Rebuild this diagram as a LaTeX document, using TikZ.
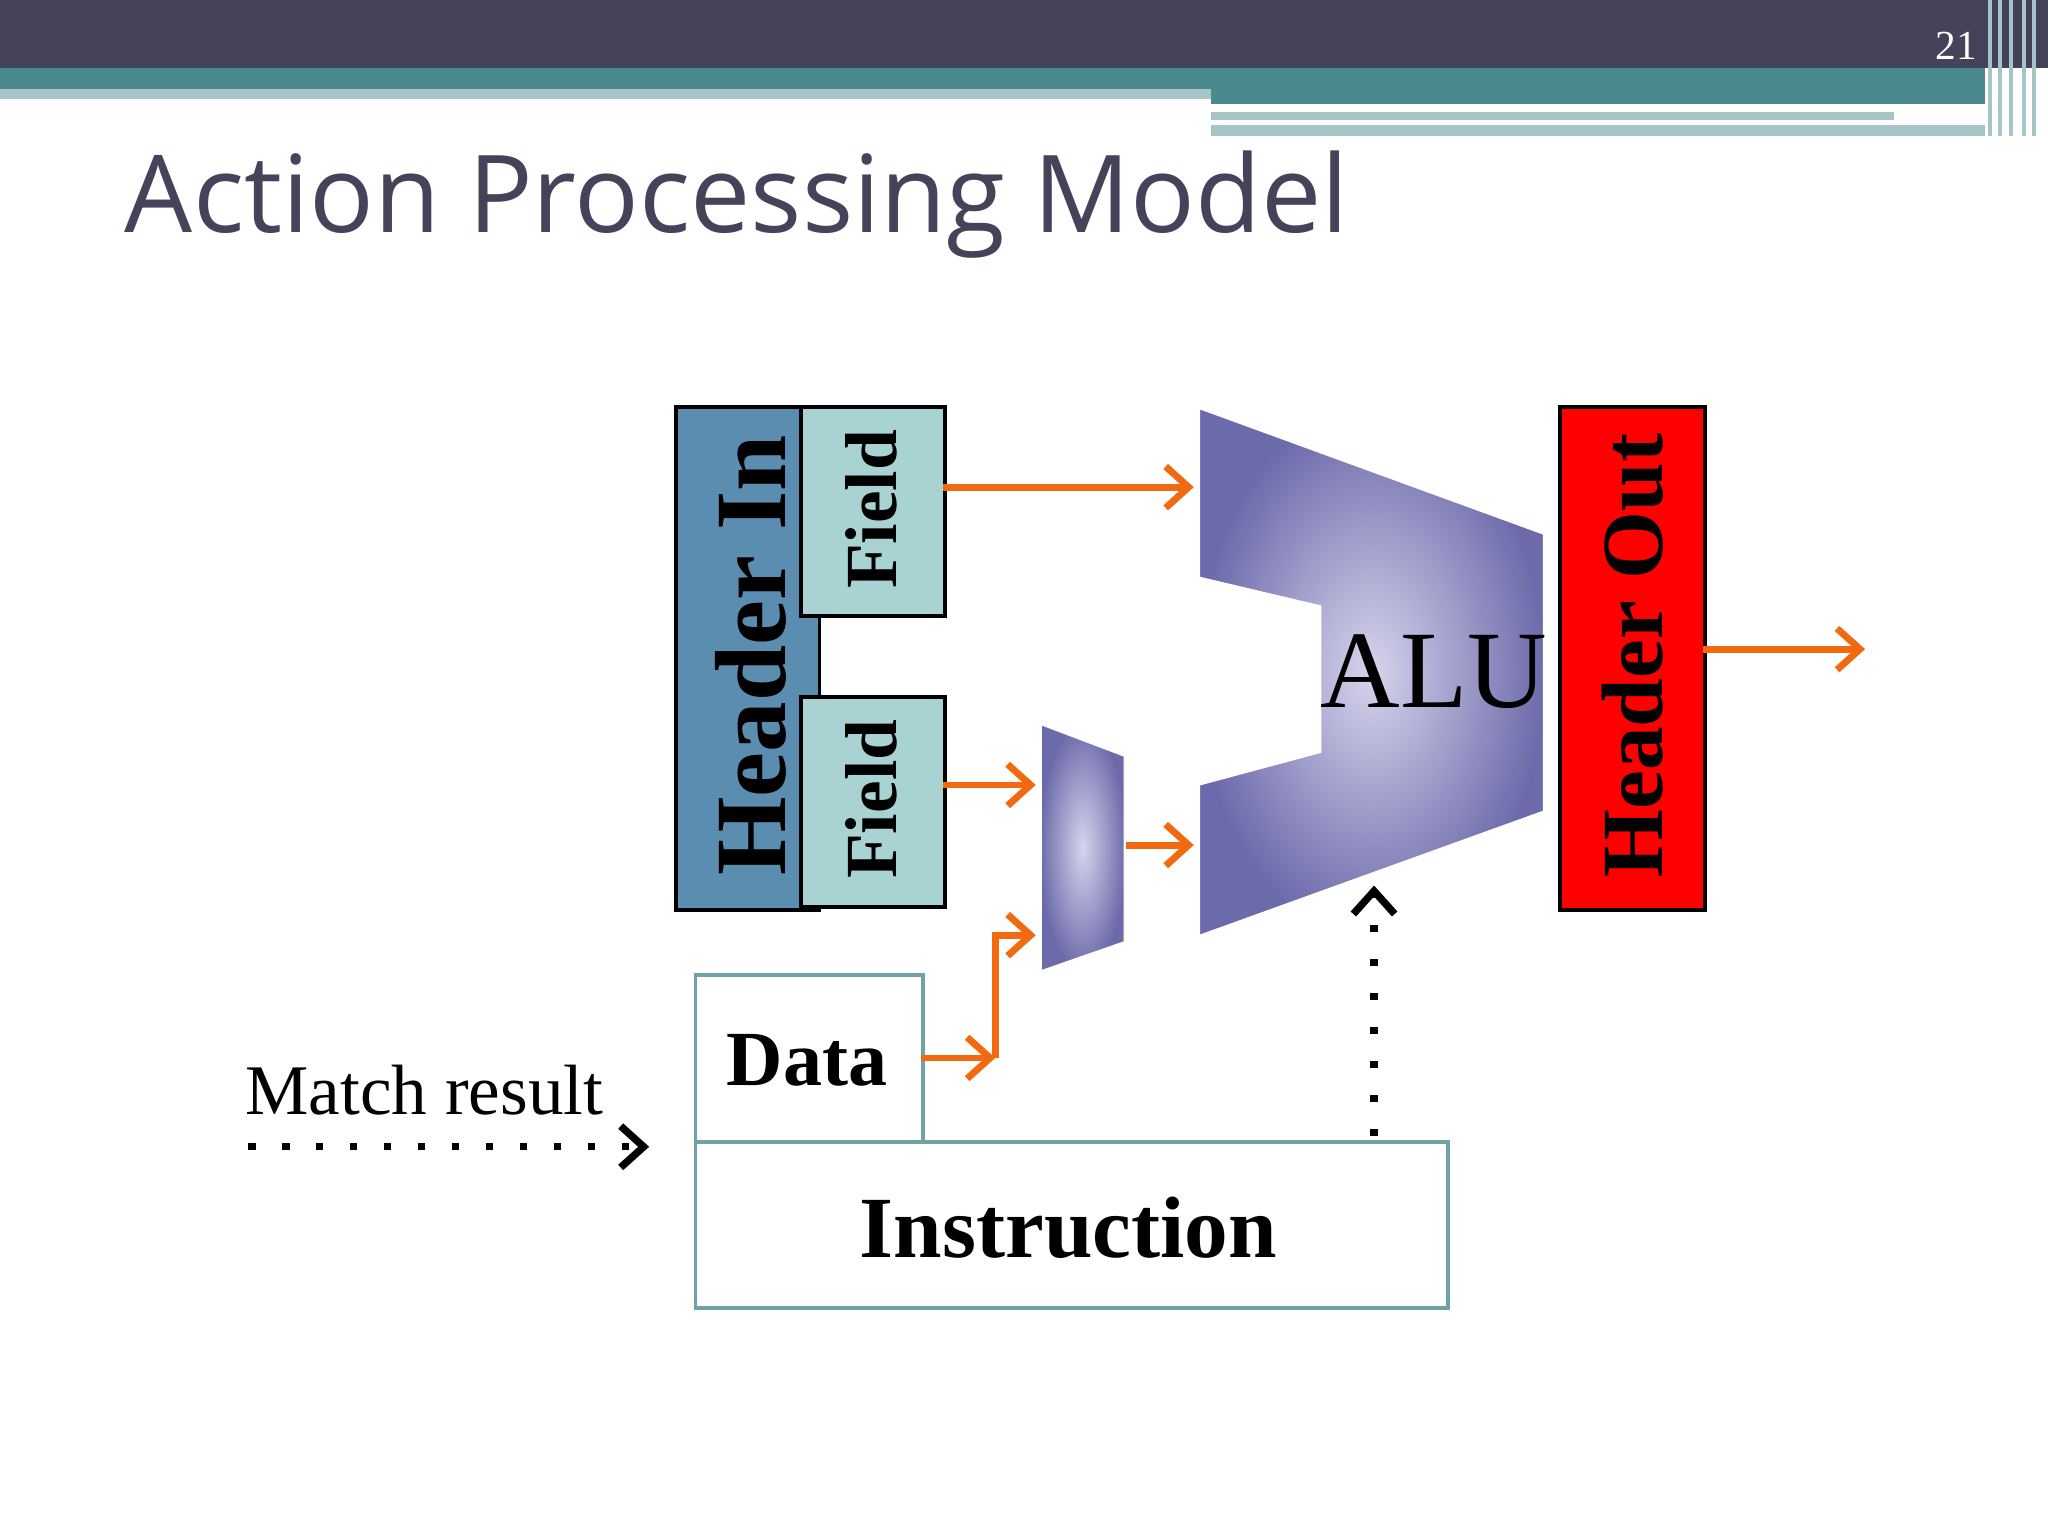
\documentclass[tikz,border=0pt]{standalone}
\usepackage{fontspec}
\setmainfont{Liberation Serif}
\newfontfamily\titlefont{Open Sans}
\usetikzlibrary{arrows.meta}
\definecolor{dark}{HTML}{45435A}
\definecolor{teal}{HTML}{4A8A8E}
\definecolor{lteal}{HTML}{A7C4C8}
\definecolor{hin}{HTML}{5B8DB0}
\definecolor{fld}{HTML}{A9D3D3}
\definecolor{alu}{HTML}{6C6AAA}
\definecolor{aluc}{HTML}{D6D4EC}
\definecolor{org}{HTML}{F26A10}
\definecolor{bord}{HTML}{6FA3A8}
\newcommand{\fs}[1]{\fontsize{#1}{#1}\selectfont}
\begin{document}
\begin{tikzpicture}[x=0.01cm,y=-0.01cm,
  oarr/.style={org,line width=1.5pt,-{Straight Barb[length=5pt,width=9pt]}},
  darr/.style={black,line width=1.6pt,dash pattern=on 1.6pt off 5.8pt,-{Straight Barb[length=5pt,width=9pt]}},
  box/.style={draw=black,line width=0.8pt,anchor=north west,inner sep=0pt},
  wbox/.style={draw=bord,line width=0.8pt,fill=white,anchor=north west,inner sep=0pt},
  shade/.style={inner color=aluc,outer color=alu,draw=white,line width=1pt}]
\useasboundingbox (0,0) rectangle (1568,1176);
% header decoration
\fill[dark] (0,0) rectangle (1568,52);
\fill[teal] (0,52) rectangle (1520,68);
\fill[lteal] (0,68) rectangle (927,76);
\fill[teal] (927,68) rectangle (1520,80);
\fill[lteal] (927,86) rectangle (1450,92);
\fill[lteal] (927,96) rectangle (1520,104);
\foreach \x in {1522,1530,1538,1548,1556}{\fill[lteal] (\x,0) rectangle (\x+3,104);}
\node[text=white] (num) at (1498,35) {\fs{9pt}21};
\node[anchor=base west,text=dark,inner sep=0pt] (title) at (95,178) {\titlefont\fs{23.4pt}Action Processing Model};
% Header in
\node[box,fill=hin,minimum width=1.1cm,minimum height=3.85cm] (hin) at (516,310) {};
\node[rotate=90,font=\bfseries\fs{22pt}] (hint) at (575,502) {Header In};
\node[box,fill=fld,minimum width=1.1cm,minimum height=1.6cm] (f1) at (612,310) {};
\node[rotate=90,font=\bfseries\fs{16pt}] at (667,390) {Field};
\node[box,fill=fld,minimum width=1.1cm,minimum height=1.61cm] (f2) at (612,532) {};
\node[rotate=90,font=\bfseries\fs{16pt}] at (667,612) {Field};
% ALU
\path[shade] (917,311) -- (1183,408) -- (1183,622) -- (917,718) -- (917,600) -- (1010,575) -- (1010,465) -- (917,443) -- cycle;
\node[font=\fs{24pt}] (alu) at (1098,514) {ALU};
\path[shade] (796,553) -- (862,578) -- (862,722) -- (796,745) -- cycle;
% Header out
\node[box,fill=red,minimum width=1.11cm,minimum height=3.85cm] (hout) at (1193,310) {};
\node[rotate=90,font=\bfseries\fs{19pt}] at (1250,502) {Header Out};
% Data / Instruction
\node[wbox,minimum width=1.74cm,minimum height=1.28cm] (data) at (531,745) {};
\node[font=\bfseries\fs{17pt}] at (618,812) {Data};
\node[wbox,minimum width=5.76cm,minimum height=1.27cm] (instr) at (531,873) {};
\node[font=\bfseries\fs{19pt}] at (818,940) {Instruction};
\node[font=\fs{15.5pt}] (mr) at (325,835) {Match result};
% arrows
\draw[oarr] (722,373) -- (914,373);
\draw[oarr] (722,601) -- (793,601);
\draw[oarr] (862,647) -- (914,647);
\draw[oarr] (1304,497) -- (1428,497);
\draw[oarr] (705,810) -- (762,810);
\draw[oarr] (762,810) -- (762,716) -- (793,716);
\draw[darr] (190,878) -- (497,878);
\draw[darr] (1052,870) -- (1052,678);
\end{tikzpicture}
\end{document}
